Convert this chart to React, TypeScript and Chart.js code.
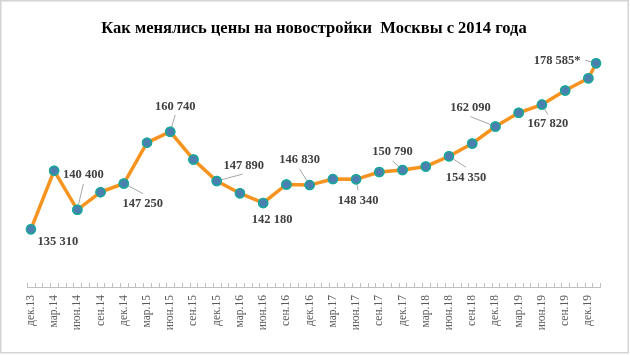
import React, { useEffect, useRef } from "react";
import { Chart, registerables } from "chart.js";

Chart.register(...registerables);

const TITLE = "Как менялись цены на новостройки  Москвы с 2014 года";

// Periods of each point (year-month)
const pointPeriods = [
  "2013-12", "2014-03", "2014-06", "2014-09", "2014-12",
  "2015-03", "2015-06", "2015-09", "2015-12",
  "2016-03", "2016-06", "2016-09", "2016-12",
  "2017-03", "2017-06", "2017-09", "2017-12",
  "2018-03", "2018-06", "2018-09", "2018-12",
  "2019-03", "2019-06", "2019-09", "2019-12", "2020-01",
];

// Price, rub per sq. m
const priceValues = [
  135310, 150600, 140400, 145000, 147250,
  157900, 160740, 153500, 147890,
  144700, 142180, 147000, 146830,
  148400, 148340, 150250, 150790,
  151700, 154350, 157700, 162090,
  165700, 167820, 171500, 174700, 178585,
];

// Axis tick labels (every quarter starting дек.13)
const tickLabels = [
  "дек.13", "мар.14", "июн.14", "сен.14", "дек.14",
  "мар.15", "июн.15", "сен.15", "дек.15",
  "мар.16", "июн.16", "сен.16", "дек.16",
  "мар.17", "июн.17", "сен.17", "дек.17",
  "мар.18", "июн.18", "сен.18", "дек.18",
  "мар.19", "июн.19", "сен.19", "дек.19",
];

// Which points get a value label (index), with star suffix
const labeledIndices = [0, 2, 4, 6, 8, 10, 12, 14, 16, 18, 20, 22, 25];
const starredIndices = [25];

// Label placement style: text offset and leader-line end relative to the point
const labelStyle: Record<number, { t: [number, number]; l?: [number, number] }> = {
  0: { t: [27, 12] },
  2: { t: [6, -35], l: [6, -26] },
  4: { t: [19, 20], l: [19, 10] },
  6: { t: [5, -25], l: [5, -17] },
  8: { t: [27, -15], l: [26, -7] },
  10: { t: [9, 17] },
  12: { t: [-10, -25], l: [-10, -16] },
  14: { t: [2, 21], l: [2, 11] },
  16: { t: [-10, -18], l: [-10, -9] },
  18: { t: [17, 21], l: [17, 11] },
  20: { t: [-25, -19], l: [-25, -10] },
  22: { t: [6, 19], l: [6, 10] },
  25: { t: [-39, -3], l: [-11, -3] },
};

const toMonth = (p: string) => {
  const [y, m] = p.split("-").map(Number);
  return (y - 2013) * 12 + (m - 12);
};

const fmt = (v: number) => String(v).replace(/\B(?=(\d{3})+(?!\d))/g, " ");

export default function App() {
  const ref = useRef<HTMLCanvasElement>(null);
  useEffect(() => {
    document.body.style.margin = "0";
    const canvas = ref.current!;
    const months = pointPeriods.map(toMonth);
    const data = months.map((x, i) => ({ x, y: priceValues[i] }));
    const lastMonth = months[months.length - 1];

    const decor = {
      id: "decor",
      beforeDraw(chart: any) {
        const ctx = chart.ctx;
        ctx.save();
        ctx.fillStyle = "#fff";
        ctx.fillRect(0, 0, chart.width, chart.height);
        ctx.strokeStyle = "#d4d4d4";
        ctx.lineWidth = 1.5;
        ctx.strokeRect(0.75, 0.75, 627.5, 352);
        ctx.fillStyle = "#000";
        ctx.font = "bold 16.5px 'Liberation Serif'";
        ctx.textAlign = "center";
        ctx.textBaseline = "middle";
        ctx.fillText(TITLE, 314, 29);
        // minor ticks
        const xs = chart.scales.x;
        const bottom = chart.chartArea.bottom;
        ctx.strokeStyle = "#bfbfbf";
        ctx.lineWidth = 1;
        for (let k = -0.5; k <= lastMonth + 0.5 + 1e-6; k += 1) {
          const px = Math.round(xs.getPixelForValue(k)) + 0.5;
          ctx.beginPath();
          ctx.moveTo(px, bottom);
          ctx.lineTo(px, bottom - 4);
          ctx.stroke();
        }
        ctx.restore();
      },
      afterDatasetsDraw(chart: any) {
        const ctx = chart.ctx;
        const meta = chart.getDatasetMeta(0);
        ctx.save();
        labeledIndices.forEach((i) => {
          const el = meta.data[i];
          const st = labelStyle[i];
          if (st.l) {
            ctx.strokeStyle = "#a6a6a6";
            ctx.lineWidth = 1;
            ctx.beginPath();
            ctx.moveTo(el.x, el.y);
            ctx.lineTo(el.x + st.l[0], el.y + st.l[1]);
            ctx.stroke();
          }
        });
        // redraw points over leader lines
        meta.data.forEach((el: any) => el.draw(ctx, chart.chartArea));
        ctx.font = "bold 12.5px 'Liberation Serif'";
        ctx.fillStyle = "#404040";
        ctx.textAlign = "center";
        ctx.textBaseline = "middle";
        labeledIndices.forEach((i) => {
          const el = meta.data[i];
          const st = labelStyle[i];
          const txt = fmt(priceValues[i]) + (starredIndices.includes(i) ? "*" : "");
          ctx.fillText(txt, el.x + st.t[0], el.y + st.t[1]);
        });
        ctx.restore();
      },
    };

    const chart = new Chart(canvas, {
      type: "line",
      data: {
        datasets: [
          {
            data,
            borderColor: "#f7931e",
            borderWidth: 3.5,
            pointRadius: 4.5,
            pointBackgroundColor: "#4a7fb0",
            pointBorderColor: "#1aa89a",
            pointBorderWidth: 1.5,
            tension: 0,
          },
        ],
      },
      options: {
        responsive: false,
        animation: false,
        layout: { padding: { top: 55, left: 27, right: 30, bottom: 0 } },
        plugins: { legend: { display: false }, tooltip: { enabled: false }, title: { display: false } },
        scales: {
          x: {
            type: "linear",
            min: -0.5,
            max: lastMonth + 0.5,
            grid: { display: false, drawTicks: false },
            border: { display: true, color: "#bfbfbf", width: 1 },
            afterBuildTicks: (scale: any) => {
              scale.ticks = tickLabels.map((_, i) => ({ value: i * 3 }));
            },
            afterFit: (scale: any) => {
              scale.height = 68;
            },
            ticks: {
              autoSkip: false,
              maxRotation: 90,
              minRotation: 90,
              padding: 8,
              color: "#595959",
              font: { family: "'Liberation Serif'", size: 11.5 },
              callback: (v: any) => tickLabels[Math.round(Number(v) / 3)] ?? "",
            },
          },
          y: {
            display: false,
            min: 120270,
            max: 180750,
          },
        },
      },
      plugins: [decor],
    });
    return () => chart.destroy();
  }, []);
  return (
    <div style={{ width: 630, height: 355 }}>
      <canvas ref={ref} width={630} height={355} />
    </div>
  );
}
